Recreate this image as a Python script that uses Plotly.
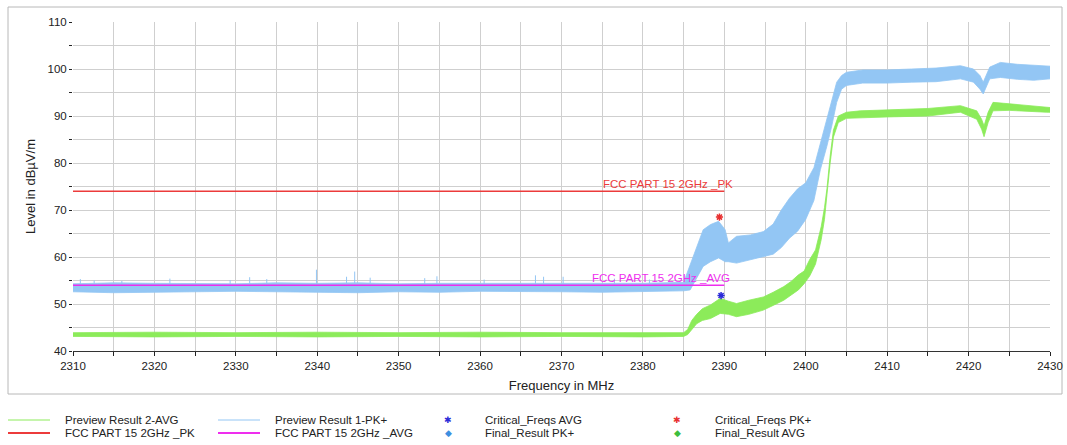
import plotly.graph_objects as go

# ---------------- data ----------------
# Preview Result 1-PK+ : noisy trace, drawn as its min/max envelope (MHz, dBµV/m)
pk_freq = [2310, 2315, 2320, 2325, 2330, 2335, 2340, 2345, 2350, 2355, 2360, 2365, 2370,
           2375, 2380, 2385, 2385.8, 2386.6, 2387.4,
           2388.3, 2389.3, 2390.1, 2390.5, 2391.5, 2393.2, 2394.8, 2396.0, 2397.0, 2398.0,
           2399.0, 2400.0, 2401.0, 2401.8, 2402.6, 2403.2, 2403.8, 2404.4, 2405.0, 2407.0,
           2410.0, 2413.0, 2416.0, 2419.0, 2420.6, 2421.4, 2421.8, 2422.6, 2423.9, 2426.0,
           2428.0, 2430.0]
pk_low = [52.6, 52.4, 52.5, 52.6, 52.7, 52.5, 52.5, 52.4, 52.6, 52.5, 52.7, 52.6, 52.6,
          52.5, 52.6, 52.8, 53.0, 55.5, 58.0,
          59.0, 59.8, 59.0, 59.0, 58.7, 59.4, 60.1, 60.6, 62.0, 64.0,
          65.5, 68.0, 72.0, 78.6, 83.6, 87.9, 92.9, 95.7, 96.5, 97.0,
          97.0, 97.2, 97.3, 97.9, 97.2, 95.7, 94.7, 97.9, 98.2, 97.8,
          97.6, 97.9]
pk_high = [54.3, 54.5, 54.4, 54.3, 54.3, 54.5, 54.4, 54.5, 54.3, 54.4, 54.4, 54.3, 54.3,
           54.4, 54.4, 54.6, 58.3, 62.2, 65.8,
           66.9, 67.6, 65.8, 63.0, 64.4, 64.7, 65.4, 67.0, 70.0, 72.5,
           74.5, 75.8, 79.0, 84.3, 89.3, 93.6, 97.2, 98.6, 99.3, 99.8,
           99.8, 100.0, 100.2, 100.7, 100.0, 98.6, 97.2, 100.4, 101.4, 101.0,
           100.8, 100.6]
# isolated peaks of the PK+ trace in the flat part
pk_spike_freq = [2310.9, 2312.6, 2316.0, 2321.9, 2329.3, 2331.7, 2333.8, 2339.9, 2343.6,
                 2344.6, 2346.5, 2353.2, 2354.7, 2360.5, 2366.8, 2367.8, 2370.2, 2376.5,
                 2380.8]
pk_spike_level = [55.3, 55.0, 54.9, 55.4, 55.1, 55.7, 55.3, 57.3, 55.8,
                  56.9, 55.6, 55.5, 55.9, 55.2, 56.1, 55.8, 55.8, 55.4,
                  55.2]

# Preview Result 2-AVG envelope
avg_freq = [2310, 2320, 2330, 2340, 2350, 2360, 2370, 2380, 2385.0, 2385.5, 2386.0, 2386.6,
            2387.3, 2388.3, 2389.5, 2390.5, 2391.5, 2393.0, 2394.8, 2396.0, 2397.3, 2398.2,
            2399.1, 2399.8, 2400.5, 2401.2, 2401.9, 2402.3, 2402.6, 2403.0, 2403.4, 2404.0,
            2405.0, 2406.7, 2410.0, 2415.0, 2419.0, 2421.0, 2421.6, 2421.9, 2422.4, 2423.0,
            2425.0, 2429.6, 2430.0]
avg_low = [43.1, 43.0, 43.1, 43.0, 43.1, 43.0, 43.1, 43.0, 43.1, 43.5, 44.5, 45.8,
           46.5, 46.9, 48.0, 47.8, 47.3, 47.8, 48.7, 49.7, 50.8, 51.8,
           53.0, 54.3, 56.0, 58.5, 63.7, 68.0, 72.5, 80.0, 85.5, 88.6,
           89.5, 89.7, 89.8, 90.0, 90.8, 89.3, 87.2, 85.6, 88.6, 91.1,
           91.2, 90.8, 90.8]
avg_high = [43.9, 44.0, 43.9, 44.0, 43.9, 44.0, 43.9, 44.0, 43.9, 44.6, 46.5, 47.8,
            49.0, 49.8, 51.2, 50.6, 50.1, 50.8, 51.5, 52.5, 53.7, 54.8,
            56.2, 57.0, 59.5, 61.5, 66.5, 70.5, 74.5, 81.5, 87.0, 90.0,
            90.8, 91.1, 91.3, 91.6, 92.2, 91.1, 89.3, 87.9, 90.8, 92.9,
            92.6, 91.8, 91.8]

# Limit lines
limit_freq = [2310, 2390]
limit_pk = [74, 74]
limit_avg = [54, 54]

# Critical frequencies
crit_pk_freq = [2389.4]
crit_pk_level = [68.5]
crit_avg_freq = [2389.6]
crit_avg_level = [51.8]

# Axis ticks
x_ticks = [2310, 2320, 2330, 2340, 2350, 2360, 2370, 2380, 2390, 2400, 2410, 2420, 2430]
y_ticks = [40, 50, 60, 70, 80, 90, 100, 110]

# ---------------- styles ----------------
C_PK = "#93C6F4"
C_AVG = "#8CEB5A"
C_RED = "#EC3B3B"
C_MAG = "#EE2EEE"
C_CRIT_AVG = "#2A2AD8"
C_CRIT_PK = "#E83030"
C_FIN_PK = "#3D8FE0"
C_FIN_AVG = "#3DBE3D"
FONT = "Liberation Sans, Arial, sans-serif"
GRID = "#CFCFCF"

# plot area in pixels
L, R, T, B = 73, 1050, 22, 351
W, H = 1067, 445


def px(p):
    return (p - L) / (R - L)


def py(p):
    return (B - p) / (B - T)


fig = go.Figure()

# PK+ envelope band
fig.add_trace(go.Scatter(
    x=pk_freq + pk_freq[::-1], y=pk_high + pk_low[::-1],
    fill="toself", fillcolor=C_PK, line=dict(color=C_PK, width=0.8),
    mode="lines", name="Preview Result 1-PK+", showlegend=False, hoverinfo="skip"))
# PK+ spikes
sx, sy = [], []
for f, v in zip(pk_spike_freq, pk_spike_level):
    sx += [f, f, None]
    sy += [53.8, v, None]
fig.add_trace(go.Scatter(x=sx, y=sy, mode="lines", line=dict(color=C_PK, width=1),
                         showlegend=False, hoverinfo="skip"))

# AVG envelope band
fig.add_trace(go.Scatter(
    x=avg_freq + avg_freq[::-1], y=avg_high + avg_low[::-1],
    fill="toself", fillcolor=C_AVG, line=dict(color=C_AVG, width=0.8),
    mode="lines", name="Preview Result 2-AVG", showlegend=False, hoverinfo="skip"))

# Limit lines
fig.add_trace(go.Scatter(x=limit_freq, y=limit_pk, mode="lines",
                         line=dict(color=C_RED, width=1.6), name="FCC PART 15 2GHz _PK",
                         showlegend=False))
fig.add_trace(go.Scatter(x=limit_freq, y=limit_avg, mode="lines",
                         line=dict(color=C_MAG, width=1.6), name="FCC PART 15 2GHz _AVG",
                         showlegend=False))

# Critical frequencies
fig.add_trace(go.Scatter(x=crit_pk_freq, y=crit_pk_level, mode="markers",
                         marker=dict(symbol="asterisk-open", size=6, color=C_CRIT_PK,
                                     line=dict(color=C_CRIT_PK, width=1.5)),
                         name="Critical_Freqs PK+", showlegend=False))
fig.add_trace(go.Scatter(x=crit_avg_freq, y=crit_avg_level, mode="markers",
                         marker=dict(symbol="asterisk-open", size=6, color=C_CRIT_AVG,
                                     line=dict(color=C_CRIT_AVG, width=1.5)),
                         name="Critical_Freqs AVG", showlegend=False))

# Limit line labels
fig.add_annotation(x=2383.1, y=74, yanchor="bottom", text="FCC PART 15 2GHz _PK",
                   showarrow=False, font=dict(family=FONT, size=11.5, color=C_RED), yshift=-1)
fig.add_annotation(x=2382.2, y=54, yanchor="bottom", text="FCC PART 15 2GHz _AVG",
                   showarrow=False, font=dict(family=FONT, size=11.5, color=C_MAG), yshift=-1)

shapes = []
# outer frame
shapes.append(dict(type="rect", xref="paper", yref="paper",
                   x0=px(8), x1=px(1062), y0=py(394), y1=py(7),
                   line=dict(color="#B8B8B8", width=1), layer="below"))

# manual legend
row1, row2 = 420, 433
legend_lines = [
    (8, 50, row1, C_AVG, 1, "Preview Result 2-AVG", 63),
    (8, 50, row2, C_RED, 2, "FCC PART 15 2GHz _PK", 63),
    (218, 260, row1, C_PK, 1, "Preview Result 1-PK+", 273),
    (218, 260, row2, C_MAG, 2, "FCC PART 15 2GHz _AVG", 273),
]
for x0, x1, yy, col, wd, txt, tx in legend_lines:
    shapes.append(dict(type="line", xref="paper", yref="paper",
                       x0=px(x0), x1=px(x1), y0=py(yy), y1=py(yy),
                       line=dict(color=col, width=wd)))
    fig.add_annotation(xref="paper", yref="paper", x=px(tx), y=py(yy), xanchor="left",
                       yanchor="middle", text=txt, showarrow=False,
                       font=dict(family=FONT, size=11.5, color="#222222"))

legend_marks = [
    (448, row1, "✱", 9, C_CRIT_AVG, "Critical_Freqs AVG", 483),
    (448, row2, "◆", 9, C_FIN_PK, "Final_Result PK+", 483),
    (677, row1, "✱", 9, C_CRIT_PK, "Critical_Freqs PK+", 713),
    (677, row2, "◆", 9, C_FIN_AVG, "Final_Result AVG", 713),
]
for mx, yy, glyph, gs, col, txt, tx in legend_marks:
    fig.add_annotation(xref="paper", yref="paper", x=px(mx), y=py(yy), xanchor="center",
                       yanchor="middle", text=glyph, showarrow=False,
                       font=dict(family="DejaVu Sans", size=gs, color=col))
    fig.add_annotation(xref="paper", yref="paper", x=px(tx), y=py(yy), xanchor="left",
                       yanchor="middle", text=txt, showarrow=False,
                       font=dict(family=FONT, size=11.5, color="#222222"))

fig.update_layout(
    width=W, height=H,
    margin=dict(l=L, r=W - R, t=T, b=H - B, pad=0, autoexpand=False),
    paper_bgcolor="white", plot_bgcolor="white",
    showlegend=False,
    font=dict(family=FONT, size=11, color="#222222"),
    shapes=shapes,
    xaxis=dict(range=[2310, 2430], tickvals=x_ticks, ticks="outside", ticklen=4,
               automargin=False,
               tickcolor="#222222", showgrid=True, gridcolor=GRID, gridwidth=1,
               minor=dict(dtick=5, tick0=2310, showgrid=True, gridcolor=GRID,
                          ticks="outside", ticklen=4, tickcolor="#222222"),
               showline=True, linecolor="#333333", linewidth=1, mirror=False,
               zeroline=False, tickfont=dict(size=11.5),
               title=dict(text="Frequency in MHz", font=dict(size=13), standoff=10)),
    yaxis=dict(range=[40, 110], tickvals=y_ticks, ticks="outside", ticklen=3,
               automargin=False,
               tickcolor="#222222", showgrid=True, gridcolor=GRID, gridwidth=1,
               minor=dict(dtick=5, tick0=40, showgrid=True, gridcolor=GRID,
                          ticks="outside", ticklen=3, tickcolor="#222222"),
               showline=False, zeroline=False, tickfont=dict(size=11.5),
               title=dict(text="Level in dBµV/m", font=dict(size=13), standoff=8)),
)

fig.write_html("out.html", config={"displayModeBar": False},
               post_script="document.body.style.margin='0';document.body.style.overflow='hidden';")
